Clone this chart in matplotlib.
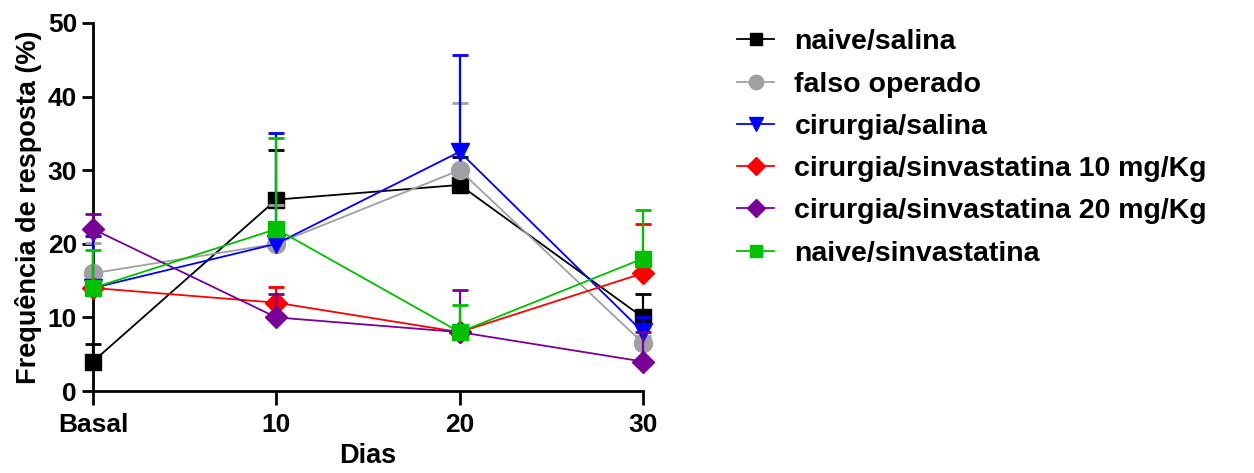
import matplotlib
matplotlib.use("Agg")
import matplotlib.pyplot as plt
import numpy as np

plt.rcParams['font.family'] = ['Liberation Sans', 'DejaVu Sans']
plt.rcParams['font.weight'] = 'bold'

# dados
dias = ['Basal', '10', '20', '30']
grupos = ['naive/salina', 'falso operado', 'cirurgia/salina',
          'cirurgia/sinvastatina 10 mg/Kg', 'cirurgia/sinvastatina 20 mg/Kg',
          'naive/sinvastatina']
naive_salina = [4, 26, 28, 10]
naive_salina_err = [2.4, 6.8, 3.8, 3.2]
falso_operado = [16, 20, 30, 6.5]
falso_operado_err = [4.1, 5.3, 9.1, 1.0]
cirurgia_salina = [14, 20, 32.5, 8]
cirurgia_salina_err = [7, 15.1, 13.1, 2.1]
sinva10 = [14, 12, 8, 16]
sinva10_err = [0.5, 2.1, 0.5, 6.7]
sinva20 = [22, 10, 8, 4]
sinva20_err = [2, 3.2, 5.7, 4]
naive_sinva = [14, 22, 8, 18]
naive_sinva_err = [5.2, 12.4, 3.7, 6.6]

medias = [naive_salina, falso_operado, cirurgia_salina, sinva10, sinva20, naive_sinva]
erros = [naive_salina_err, falso_operado_err, cirurgia_salina_err, sinva10_err, sinva20_err, naive_sinva_err]
cores = ['#000000', '#a0a0a4', '#0000ff', '#ff0000', '#780096', '#00c000']
marcadores = ['s', 'o', 'v', 'D', 'D', 's']
tamanhos = [11.5, 13, 12.5, 11.5, 11.5, 11.5]

fig = plt.figure(figsize=(12.54, 4.73), dpi=100)
ax = fig.add_axes([93 / 1254, 1 - 391 / 473, (643 - 93) / 1254, (391 - 23) / 473])

x = np.arange(len(dias))
for i in range(len(grupos)):
    m = np.array(medias[i])
    e = np.array(erros[i])
    z = 3 + i
    # barras de erro (so para cima)
    ax.vlines(x, m, m + e, color=cores[i], lw=1.6, zorder=z, clip_on=False)
    ax.plot(x, m + e, ls='none', marker='_', ms=12, mew=2, color=cores[i],
            zorder=z, clip_on=False)
    ax.plot(x, m, color=cores[i], lw=1.3, marker=marcadores[i], ms=tamanhos[i],
            mec=cores[i], mfc=cores[i], label=grupos[i], zorder=z + 0.5, clip_on=False)

ax.set_xlim(0, 3)
ax.set_ylim(0, 50)
ax.set_xticks(x)
ax.set_xticklabels(dias)
ax.set_yticks([0, 10, 20, 30, 40, 50])
ax.set_xlabel('Dias', fontsize=19.5, fontweight='bold', labelpad=4)
ax.set_ylabel('Frequência de resposta (%)', fontsize=19.5, fontweight='bold', labelpad=4)
ax.tick_params(axis='both', labelsize=19, width=2, length=8, direction='out')
ax.tick_params(axis='x', length=10, pad=6)
for lab in ax.get_xticklabels() + ax.get_yticklabels():
    lab.set_fontweight('bold')
for s in ['top', 'right']:
    ax.spines[s].set_visible(False)
for s in ['left', 'bottom']:
    ax.spines[s].set_linewidth(2)

leg = fig.legend(loc='upper left', bbox_to_anchor=(0.579, 0.962), frameon=False,
                 fontsize=20.5, handlelength=1.3, handletextpad=0.7, labelspacing=0.57,
                 markerscale=0.8, borderaxespad=0)
for t in leg.get_texts():
    t.set_fontweight('bold')

fig.savefig('out.png', dpi=100)
